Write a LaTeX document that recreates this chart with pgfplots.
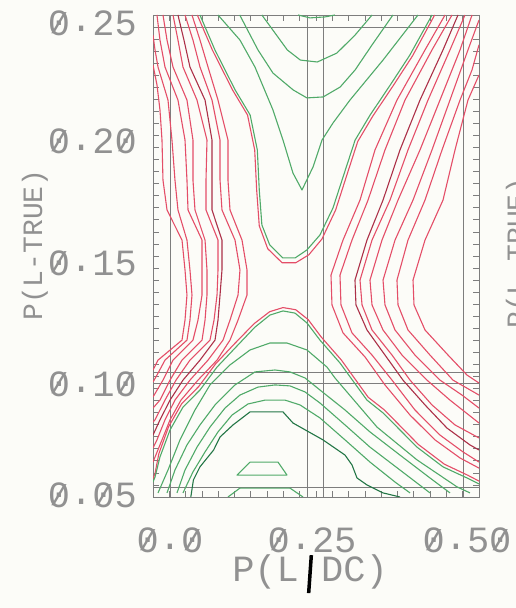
\documentclass[border=0pt]{standalone}
\usepackage{pgfplots}
\pgfplotsset{compat=1.18}
\usepackage{graphicx}
\usepackage{fontspec}
\newfontfamily\mono{Liberation Mono}
\definecolor{cred}{RGB}{228,78,104}
\definecolor{cdred}{RGB}{172,48,72}
\definecolor{cgreen}{RGB}{80,170,105}
\definecolor{cdgreen}{RGB}{35,118,70}
\definecolor{cgray}{RGB}{125,125,125}
\definecolor{ctext}{RGB}{145,145,145}
\definecolor{bgc}{RGB}{252,252,248}
\newcommand\zs{\ooalign{0\cr\hidewidth\raisebox{0.07em}{\scalebox{0.85}[0.78]{/}}\hidewidth\cr}}
\newcommand\dotp{\raisebox{0.1em}{.}}
\newcommand\labfont{\mono\fontsize{37}{40}\selectfont}
\begin{document}
\begin{tikzpicture}
\useasboundingbox (0pt,0pt) rectangle (516pt,608pt);
\fill[bgc] (0pt,0pt) rectangle (516pt,608pt);
\begin{axis}[
  at={(153pt,111pt)}, anchor=south west,
  width=326pt, height=482pt, scale only axis,
  xmin=0, xmax=0.5, ymin=0.05, ymax=0.25,
  scaled ticks=false,
  axis line style={draw=cgray, line width=0.9pt},
  xtick={0.0261,0.2439,0.4816},
  xticklabels={{\zs\dotp\zs},{\zs\dotp25},{\zs\dotp5\zs}},
  ytick={0.2465,0.1975,0.1470,0.0968,0.0505},
  yticklabels={{\zs\dotp25},{\zs\dotp2\zs},{\zs\dotp15},{\zs\dotp1\zs},{\zs\dotp\zs5}},
  major tick length=0pt,
  minor xtick={0,0.025,...,0.5},
  minor ytick={0.05,0.055,...,0.25},
  minor tick length=6pt,
  tick align=inside,
  every tick/.append style={cgray, line width=0.7pt},
  tick label style={font=\labfont, text=ctext},
  xticklabel style={anchor=base, inner sep=0pt, yshift=-56pt},
  yticklabel style={anchor=east, inner sep=0pt, xshift=-16pt},
  every axis plot/.append style={line width=1.1pt, line join=round},
]
% frame lines
\addplot[cgray, line width=0.8pt, forget plot] coordinates {(0.0261,0.05) (0.0261,0.25)};
\addplot[cgray, line width=0.8pt, forget plot] coordinates {(0.4755,0.05) (0.4755,0.25)};
\addplot[cgray, line width=0.8pt, forget plot] coordinates {(0,0.2450) (0.5,0.2450)};
\addplot[cgray, line width=0.8pt, forget plot] coordinates {(0,0.0541) (0.5,0.0541)};
\addplot[cgray, line width=0.8pt, forget plot] coordinates {(0.2362,0.05) (0.2362,0.25)};
\addplot[cgray, line width=0.8pt, forget plot] coordinates {(0.2607,0.05) (0.2607,0.25)};
\addplot[cgray, line width=0.8pt, forget plot] coordinates {(0,0.1015) (0.5,0.1015)};
\addplot[cgray, line width=0.8pt, forget plot] coordinates {(0,0.0973) (0.5,0.0973)};
% left red contours
\addplot[cred] coordinates {(.0598,.25)(.0721,.2396)(.0844,.2284)(.0997,.2147)(.1150,.1981)(.1150,.1815)(.1181,.1691)(.1365,.1566)(.1442,.1442)(.1442,.1338)(.1304,.1234)(.1181,.1151)(.0982,.1068)(.0690,.0985)(.0429,.0902)(.0261,.0820)(.0138,.0737)(0,.0645)};
\addplot[cred] coordinates {(.0491,.25)(.0613,.2396)(.0721,.2284)(.0905,.2147)(.1028,.1981)(.1028,.1815)(.1058,.1691)(.1258,.1566)(.1334,.1442)(.1304,.1338)(.1181,.1234)(.1074,.1151)(.0844,.1068)(.0567,.0985)(.0337,.0902)(.0184,.0820)(.0061,.0737)(0,.0703)};
\addplot[cdred] coordinates {(.0383,.25)(.0475,.2396)(.0567,.2284)(.0798,.2147)(.0905,.1981)(.0905,.1815)(.0905,.1691)(.1058,.1566)(.1058,.1442)(.1028,.1338)(.0997,.1234)(.0951,.1151)(.0721,.1068)(.0460,.0985)(.0261,.0902)(.0107,.0820)(0,.0757)};
\addplot[cred] coordinates {(.0307,.25)(.0383,.2396)(.0460,.2284)(.0675,.2147)(.0828,.1981)(.0813,.1815)(.0813,.1691)(.0997,.1566)(.0997,.1442)(.0982,.1338)(.0936,.1234)(.0874,.1151)(.0567,.1068)(.0353,.0985)(.0184,.0902)(.0031,.0820)(0,.0811)};
\addplot[cred] coordinates {(.0153,.25)(.0215,.2396)(.0307,.2284)(.0521,.2147)(.0613,.1981)(.0613,.1815)(.0644,.1691)(.0798,.1566)(.0828,.1442)(.0828,.1338)(.0798,.1234)(.0752,.1151)(.0445,.1068)(.0261,.0985)(.0107,.0902)(0,.0869)};
\addplot[cred] coordinates {(.0061,.25)(.0107,.2396)(.0184,.2284)(.0383,.2147)(.0491,.1981)(.0521,.1815)(.0537,.1691)(.0752,.1566)(.0752,.1442)(.0752,.1338)(.0690,.1234)(.0613,.1151)(.0307,.1068)(.0153,.0985)(0,.0915)};
\addplot[cred] coordinates {(0,.2417)(.0031,.2355)(.0077,.2284)(.0230,.2147)(.0291,.1981)(.0337,.1815)(.0383,.1691)(.0521,.1566)(.0567,.1442)(.0598,.1338)(.0567,.1234)(.0521,.1151)(.0184,.1068)(.0061,.1006)(0,.0977)};
\addplot[cred] coordinates {(0,.2293)(.0061,.2210)(.0107,.2106)(.0138,.1981)(.0153,.1815)(.0215,.1691)(.0445,.1566)(.0491,.1442)(.0521,.1338)(.0491,.1234)(.0445,.1151)(.0077,.1068)(0,.1027)};
% right red contours
\addplot[cred] coordinates {(.4479,.25)(.4172,.2355)(.3742,.2147)(.3405,.1940)(.3175,.1732)(.2914,.1566)(.2730,.1421)(.2745,.1297)(.2914,.1181)(.3252,.1081)(.3558,.0965)(.3942,.0840)(.4325,.0737)(.4709,.0662)(.5,.0620)};
\addplot[cred] coordinates {(.4586,.25)(.4279,.2355)(.3865,.2147)(.3558,.1940)(.3298,.1732)(.3052,.1566)(.2868,.1421)(.2883,.1297)(.3052,.1181)(.3359,.1089)(.3666,.0985)(.4018,.0861)(.4402,.0757)(.4755,.0687)(.5,.0645)};
\addplot[cdred] coordinates {(.4678,.25)(.4448,.2355)(.4095,.2147)(.3788,.1940)(.3528,.1732)(.3282,.1566)(.3098,.1400)(.3113,.1297)(.3282,.1193)(.3558,.1089)(.3834,.0985)(.4172,.0882)(.4509,.0786)(.4862,.0716)(.5,.0695)};
\addplot[cred] coordinates {(.4785,.25)(.4555,.2355)(.4218,.2147)(.3911,.1940)(.3635,.1732)(.3359,.1566)(.3175,.1400)(.3206,.1297)(.3359,.1193)(.3666,.1089)(.3942,.0985)(.4279,.0882)(.4632,.0799)(.5,.0745)};
\addplot[cred] coordinates {(.4893,.25)(.4709,.2355)(.4402,.2147)(.4095,.1940)(.3758,.1732)(.3512,.1566)(.3328,.1400)(.3359,.1297)(.3528,.1193)(.3819,.1089)(.4202,.0985)(.4555,.0902)(.5,.0807)};
\addplot[cred] coordinates {(.5,.2479)(.4831,.2355)(.4555,.2147)(.4279,.1940)(.3988,.1732)(.3712,.1566)(.3528,.1400)(.3558,.1297)(.3712,.1193)(.4018,.1089)(.4402,.0985)(.4739,.0923)(.5,.0869)};
\addplot[cred] coordinates {(.5,.2376)(.4893,.2272)(.4709,.2147)(.4433,.1940)(.4172,.1732)(.3911,.1566)(.3742,.1400)(.3758,.1297)(.3911,.1193)(.4248,.1089)(.4601,.0985)(.5,.0923)};
\addplot[cred] coordinates {(.5,.2251)(.4831,.2147)(.4632,.1940)(.4448,.1732)(.4172,.1566)(.3988,.1400)(.4003,.1297)(.4172,.1193)(.4525,.1089)(.4816,.1006)(.5,.0973)};
% top green contours
\addplot[cred] coordinates {(0.068,0.25)(0.091,0.2355)(0.122,0.2189)(0.145,0.2085)(0.156,0.194)(0.159,0.1774)(0.163,0.1625)(0.176,0.153)(0.198,0.1472)(0.219,0.1472)(0.239,0.1505)(0.259,0.157)(0.280,0.169)(0.299,0.185)(0.314,0.1975)(0.337,0.208)(0.368,0.2205)(0.398,0.233)(0.432,0.25)};
\addplot[cgreen] coordinates {(0.072,0.25)(0.095,0.2355)(0.126,0.2189)(0.149,0.2085)(0.160,0.194)(0.163,0.1774)(0.167,0.1629)(0.179,0.1546)(0.199,0.1492)(0.218,0.1492)(0.236,0.1525)(0.256,0.1587)(0.276,0.1699)(0.295,0.1857)(0.310,0.1981)(0.333,0.2085)(0.364,0.221)(0.394,0.2334)(0.428,0.25)};
\addplot[cgreen] coordinates {(0.0997,0.25)(0.1334,0.2396)(0.1564,0.2284)(0.184,0.2106)(0.1994,0.1981)(0.2147,0.1844)(0.2285,0.1774)(0.2454,0.1869)(0.2592,0.1981)(0.2761,0.2052)(0.3021,0.2147)(0.3528,0.2313)(0.4064,0.25)};
\addplot[cgreen] coordinates {(0.133,0.25)(0.161,0.2355)(0.184,0.2259)(0.215,0.2189)(0.236,0.2156)(0.261,0.216)(0.287,0.2201)(0.310,0.2272)(0.336,0.2376)(0.368,0.25)};
\addplot[cgreen] coordinates {(0.167,0.25)(0.206,0.2355)(0.226,0.2313)(0.252,0.2305)(0.282,0.2342)(0.310,0.2417)(0.336,0.25)};
\addplot[cgreen] coordinates {(0.2224,0.25)(0.2408,0.2488)(0.2638,0.2492)(0.2791,0.25)};
% bottom green contours
\addplot[cred] coordinates {(0,.0575)(.0031,.0598)(.0090,.0680)(.0240,.0792)(.0440,.0887)(.0700,.0958)(.0962,.1053)(.1240,.1133)(.1550,.1219)(.1790,.1269)(.1994,.1286)(.2190,.1277)(.2380,.1236)(.2580,.1164)(.2890,.1068)(.3300,.0914)(.3550,.0861)(.4070,.0718)(.4470,.0636)(.4830,.0590)(.5,.0566)};
\addplot[cgreen] coordinates {(0,.0562)(.0031,.0583)(.0107,.0666)(.0261,.0778)(.0460,.0873)(.0721,.0944)(.0982,.1039)(.1258,.1118)(.1564,.1205)(.1794,.1255)(.1994,.1272)(.2178,.1263)(.2362,.1222)(.2561,.1151)(.2868,.1056)(.3282,.0902)(.3528,.0849)(.4049,.0707)(.4448,.0625)(.4816,.0579)(.5,.0554)};
\addplot[cgreen] coordinates {(0.0077,0.0517)(0.023,0.0612)(0.0414,0.0737)(0.0644,0.0861)(0.0874,0.0965)(0.1181,0.1048)(0.1488,0.111)(0.1794,0.1139)(0.2055,0.1139)(0.2362,0.111)(0.2669,0.1039)(0.2791,0.0994)(0.3436,0.079)(0.4049,0.0654)(0.4663,0.0542)(0.4862,0.0517)};
\addplot[cgreen] coordinates {(0.0215,0.0517)(0.0337,0.0612)(0.0521,0.0716)(0.0721,0.0799)(0.0951,0.0882)(0.1258,0.0965)(0.1564,0.1019)(0.1871,0.1027)(0.2101,0.1019)(0.2331,0.0994)(0.2561,0.0944)(0.2945,0.0861)(0.3328,0.077)(0.3788,0.0674)(0.4248,0.0579)(0.4555,0.0517)};
\addplot[cgreen] coordinates {(0.0368,0.0517)(0.0491,0.0612)(0.0675,0.0707)(0.0874,0.079)(0.1104,0.0869)(0.1334,0.0923)(0.161,0.0956)(0.1871,0.0965)(0.2101,0.0961)(0.2331,0.0936)(0.2561,0.089)(0.2945,0.0799)(0.3328,0.0707)(0.3788,0.0612)(0.4248,0.0517)};
\addplot[cgreen] coordinates {(0.046,0.0517)(0.0613,0.0604)(0.0798,0.0687)(0.0997,0.077)(0.1212,0.084)(0.1457,0.0886)(0.1718,0.0902)(0.2025,0.0902)(0.2255,0.0882)(0.2561,0.0828)(0.2945,0.0737)(0.3328,0.0645)(0.3712,0.0562)(0.3942,0.0517)};
\addplot[cdgreen] coordinates {(0.058,0.05)(0.062,0.0571)(0.072,0.0625)(0.093,0.0695)(0.1028,0.0749)(0.1227,0.0799)(0.1488,0.0853)(0.1994,0.0853)(0.2147,0.0807)(0.2607,0.0737)(0.2945,0.0674)(0.3052,0.0633)(0.3129,0.0579)(0.3282,0.055)(0.3528,0.0517)(0.3788,0.05)};
\addplot[cgreen] coordinates {(0.1488,0.0645)(0.1917,0.0645)(0.2055,0.0591)(0.1288,0.0591)(0.1488,0.0645)};
\addplot[cgreen] coordinates {(0.115,0.05)(0.1334,0.0537)(0.2101,0.0537)(0.2301,0.05)};
\end{axis}
\node[anchor=base, text=ctext, font=\labfont, inner sep=0pt] at (310pt,27pt) {P(L\makebox[22.2pt]{\color{black}\rotatebox{-4}{\rule[-12pt]{3.5pt}{38pt}}}DC)};
\node[rotate=90, anchor=base, text=ctext, inner sep=0pt, font=\mono\fontsize{28}{30}\selectfont] at (42pt,363pt) {P(L-TRUE)};
\node[rotate=90, anchor=base, text=ctext, inner sep=0pt, font=\mono\fontsize{28}{30}\selectfont] at (526pt,355pt) {P(L-TRUE)};
\end{tikzpicture}
\end{document}
